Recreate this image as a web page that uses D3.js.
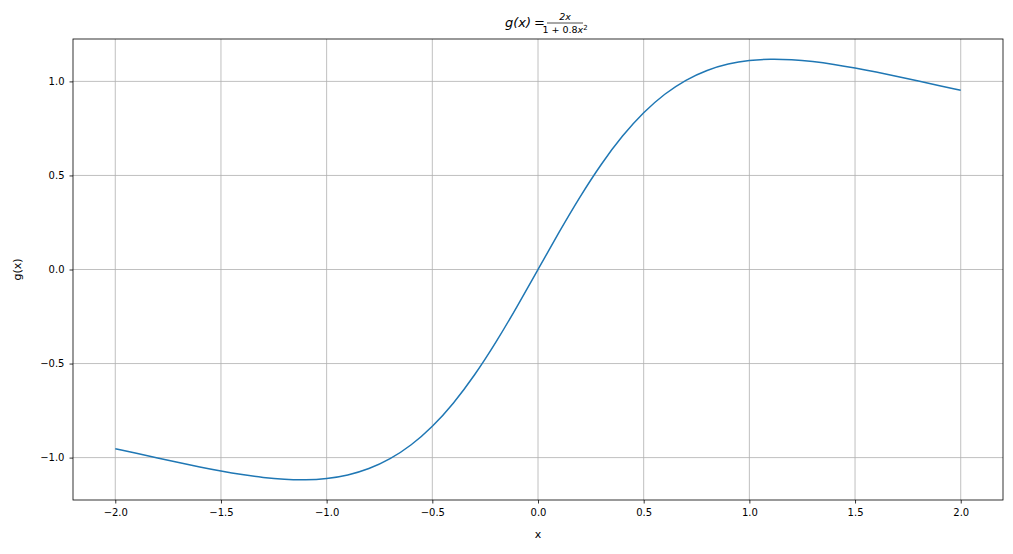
<!DOCTYPE html>
<html><head><meta charset="utf-8">
<script src="https://cdn.jsdelivr.net/npm/d3@7"></script>
<style>body{margin:0;background:#fff}text{font-family:"DejaVu Sans",sans-serif}</style>
</head><body>
<svg id="c" width="1013" height="554"></svg>
<script>
const xs = [-2.0,-1.9,-1.8,-1.7,-1.6,-1.5,-1.4,-1.3,-1.2,-1.1,-1.0,-0.9,-0.8,-0.7,-0.6,-0.5,-0.4,-0.3,-0.2,-0.1,0,0.1,0.2,0.3,0.4,0.5,0.6,0.7,0.8,0.9,1.0,1.1,1.2,1.3,1.4,1.5,1.6,1.7,1.8,1.9,2.0];
const ys = [-0.9524,-0.9774,-1.0022,-1.0266,-1.0499,-1.0714,-1.0903,-1.1054,-1.1152,-1.1179,-1.1111,-1.0922,-1.0582,-1.0057,-0.9317,-0.8333,-0.7092,-0.5597,-0.3876,-0.1984,0,0.1984,0.3876,0.5597,0.7092,0.8333,0.9317,1.0057,1.0582,1.0922,1.1111,1.1179,1.1152,1.1054,1.0903,1.0714,1.0499,1.0266,1.0022,0.9774,0.9524];
const xTicks = [-2.0,-1.5,-1.0,-0.5,0.0,0.5,1.0,1.5,2.0];
const yTicks = [-1.0,-0.5,0.0,0.5,1.0];
const L=73,R=1003,T=39,B=500;
const svg=d3.select("#c");
const x=d3.scaleLinear().domain([-2.2,2.2]).range([L,R]);
const y=d3.scaleLinear().domain([-1.2254,1.2254]).range([B,T]);
const fmt=v=>v.toFixed(1).replace("-","\u2212");
// grid
svg.append("g").selectAll("line").data(xTicks).join("line").attr("x1",d=>x(d)).attr("x2",d=>x(d)).attr("y1",T).attr("y2",B).attr("stroke","#b0b0b0").attr("stroke-width",0.8);
svg.append("g").selectAll("line").data(yTicks).join("line").attr("y1",d=>y(d)).attr("y2",d=>y(d)).attr("x1",L).attr("x2",R).attr("stroke","#b0b0b0").attr("stroke-width",0.8);
const gx=svg.append("g").attr("transform",`translate(0,${B})`).call(d3.axisBottom(x).tickValues(xTicks).tickFormat(fmt).tickSize(3.5).tickPadding(5));
const gy=svg.append("g").attr("transform",`translate(${L},0)`).call(d3.axisLeft(y).tickValues(yTicks).tickFormat(fmt).tickSize(3.5).tickPadding(5));
[gx,gy].forEach(g=>{g.select(".domain").remove();g.selectAll("text").attr("font-size",10).attr("fill","#000").style("font-family","DejaVu Sans");g.selectAll("line").attr("stroke","#000").attr("stroke-width",0.8);});
const line=d3.line().x((d,i)=>x(xs[i])).y(d=>y(d)).curve(d3.curveNatural);
svg.append("path").datum(ys).attr("d",line).attr("fill","none").attr("stroke","#1f77b4").attr("stroke-width",1.5);
svg.append("rect").attr("x",L).attr("y",T).attr("width",R-L).attr("height",B-T).attr("fill","none").attr("stroke","#000").attr("stroke-width",0.8);
svg.append("text").attr("x",(L+R)/2).attr("y",538).attr("text-anchor","middle").attr("font-size",11).text("x");
svg.append("text").attr("transform",`translate(21,${(T+B)/2}) rotate(-90)`).attr("text-anchor","middle").attr("font-size",11).text("g(x)");
// title
const t=svg.append("g");
t.append("text").attr("x",531).attr("y",27).attr("text-anchor","end").attr("font-size",13).attr("font-style","italic").text("g(x)");
t.append("text").attr("x",534).attr("y",27).attr("font-size",13).text("=");
t.append("text").attr("x",565).attr("y",20).attr("text-anchor","middle").attr("font-size",9.5).attr("font-style","italic").text("2x");
t.append("line").attr("x1",547).attr("x2",583).attr("y1",23).attr("y2",23).attr("stroke","#000").attr("stroke-width",0.7);
const den=t.append("text").attr("x",565).attr("y",33).attr("text-anchor","middle").attr("font-size",9.5);
den.append("tspan").text("1 + 0.8");den.append("tspan").attr("font-style","italic").text("x");den.append("tspan").attr("dy",-3).attr("font-size",7).text("2");
</script>
</body></html>
